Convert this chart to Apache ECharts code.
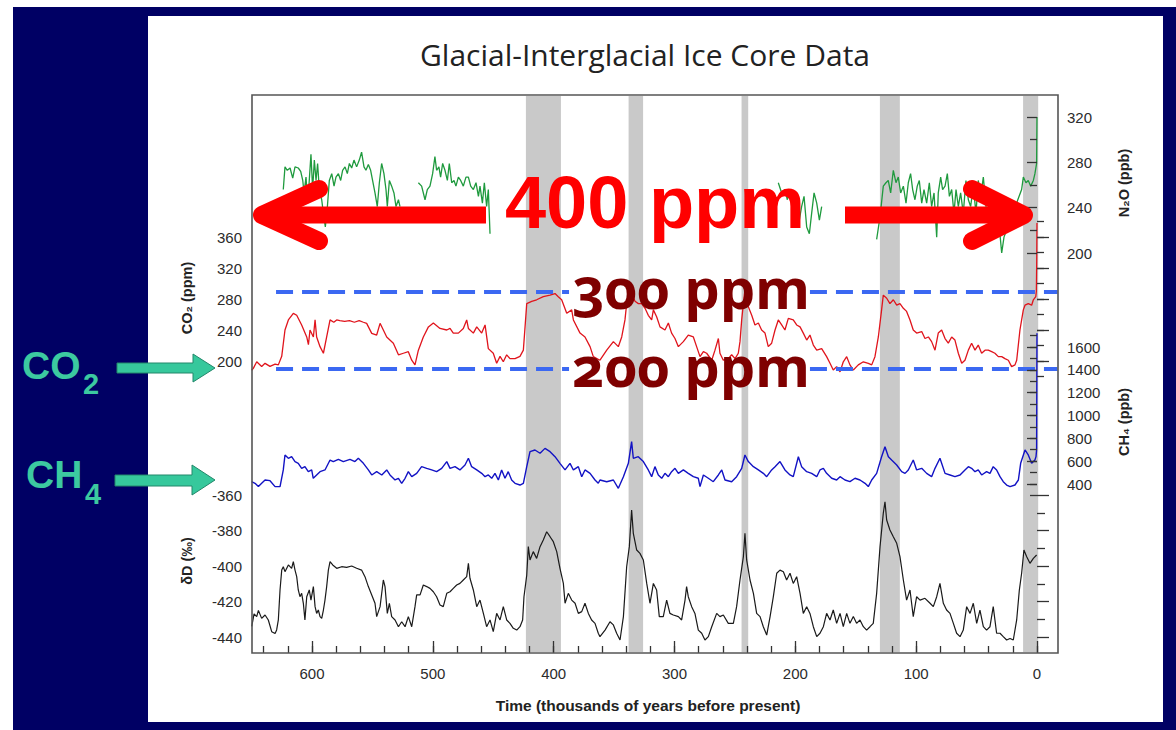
<!DOCTYPE html>
<html>
<head>
<meta charset="utf-8">
<script src="https://cdn.jsdelivr.net/npm/echarts@6/dist/echarts.min.js"></script>
<style>
html,body{margin:0;padding:0;background:#fff;}
#wrap{position:relative;width:1176px;height:730px;overflow:hidden;background:#fff;}
#navy{position:absolute;left:13px;top:7px;width:1163px;height:723px;background:#000064;}
#panel{position:absolute;left:148px;top:16px;width:1015px;height:706px;background:#fff;}
#chart{position:absolute;left:0;top:0;width:1176px;height:730px;}
svg text{font-variant-numeric:oldstyle-nums !important;font-feature-settings:"onum" 1 !important;}
</style>
</head>
<body>
<div id="wrap"><div id="navy"></div><div id="panel"></div><div id="chart"></div></div>
<script>
// ---------------- DATA (time in kyr before present) ----------------
const titleText = 'Glacial-Interglacial Ice Core Data';
const xTickLabels = [600, 500, 400, 300, 200, 100, 0];
const interglacialBands = [[423, 394], [338, 326], [244.5, 239], [130, 113.5], [11.5, -1]];
const co2RefLevels = [290, 190];

const co2Data = [
[650,188],[648.6,190.5],[645.8,199],[641.7,193],[638.9,197],[634.8,193],[630.6,196],[627.9,195],[625.1,206],[622.4,240],[619.6,253],[615.5,261.5],[612.7,259],[608.6,246.5],[604.4,231],[603,221],[601.7,240],[598.9,231],[597.5,253],[596.2,231],[593.4,218.5],[590.6,210],[587.9,231],[585.1,253],[582,250],[579.6,253],[577,252],[573,251],[569,252],[565,250],[561,252],[557.5,250],[554.8,248.6],[550.6,235.7],[546.5,233.5],[543.7,248.6],[541,240],[538.2,231],[532.7,223],[528.5,208],[524.4,210],[520.3,212],[517.5,201],[514.8,195],[512,214],[507.9,231],[503.7,244],[499.6,249],[494.1,242],[488.5,240],[485.8,242],[483.1,236],[478.9,236],[474.8,242],[472,253],[470.6,242],[466.5,236],[463.7,244],[459.6,236],[456.8,246.5],[454.1,216],[450,210],[447.2,197],[444.4,206],[441.7,199],[438.9,208],[436.2,203],[432,203],[427.9,206],[425.1,214],[422.3,274],[418.2,277],[414.1,279],[408.6,283],[403,285],[398.9,287],[396.2,283],[393.4,279],[389.2,261.5],[385.1,266],[383.7,253],[378.2,236],[374.1,231],[369.9,218.5],[367.2,205.6],
[361.7,201],[356.1,214],[350.6,225],[346.5,218.5],[343.7,231],[341,253],[339.6,274],[336.8,281],[335.5,287],[332.7,277],[329.9,274],[327.2,274],[324.4,268],[321.7,259],[318.9,253],[317.5,266],[314.8,257],[312,244],[307.9,240],[305.1,249],[302.4,236],[299.6,229],[296.8,218.5],[292.7,225],[288.6,233.5],[284.4,231],[281.7,218.5],[278.9,205.6],[276.1,212],[273.4,210],[269.2,201],[266.5,214],[263.7,229],[262.4,210],[259.6,201],[255.5,203],[252.7,208],[249.9,203],[247.2,210],[245.8,225],[244.4,253],[243,274],[241.7,292],[238.9,270],[236.1,259],[233.4,246.5],[230.6,249],[227.9,240],[225.1,236],[222.4,218.5],[219.6,223],[216.8,240],[214.1,253],[211.3,246.5],[208.6,240],[205.8,255],[201.7,253],[198.9,246.5],[196.1,244],[193.4,236],[190.6,227],[187.9,233.5],[185.1,220.6],[182.3,214],[178.2,216],[174.1,205.6],[171.3,197],[168.6,188.4],[165.8,192.7],[163,186],[160.3,199],[157.5,205.6],[154.8,195],[152,188.4],[147.9,195],[143.7,199],[139.6,197],[136.8,195],[134.1,205.6],[131.3,231],[128.6,266],[127.2,285],[124.4,281],[121.7,274],[118.9,279],[116.1,272],[113.4,274],[110.6,268],[107.9,264],[105.1,253],[102.4,240],[99.6,236],[95.4,238],[92.7,229],[89.9,231],[87.2,225],[84.4,214],[81.7,236],[78.9,240],[76.1,229],[73.4,223],[70.6,231],[67.9,227],[65.1,210],[62.3,197],[59.6,201],[56.8,214],[54.1,223],[51.3,214],[48.6,220.6],[45.8,210],[43,214],[40.3,214],[37.5,212],[34.8,210],[32,205.6],[29.2,205.6],[26.5,203],[23.7,201],[21,192.7],[18.2,195],[16.8,201],[14.1,240],[11.3,266],[9.9,272],[7.2,274],[4.4,272],[3,279],[1,283],[0.5,290],[0.2,330],[0,378]
];

const ch4Data = [
[650,420],[647.2,406],[644.4,377],[641.7,406],[638.9,435],[634.8,429],[630.6,377],[626.5,377],[623.8,523],[622.4,654],[619.6,625],[616.9,639],[614.1,596],[611.4,581],[608.6,537],[605.9,552],[603.1,508],[600.3,523],[599,450],[596.2,479],[593.4,508],[589.3,523],[585.1,610],[582.4,596],[578.2,616],[574.1,596],[568.6,616],[564.5,596],[561.7,625],[557.5,581],[553.4,523],[550.6,479],[546.5,508],[542.3,479],[538.2,523],[535.5,479],[531.3,435],[528.5,450],[525.8,406],[523,450],[520.3,508],[517.5,464],[513.4,493],[509.3,552],[505.1,537],[501,523],[496.9,508],[492.7,537],[488.5,596],[485.8,537],[481.7,552],[477.6,523],[473.4,566],[470.6,625],[467.9,552],[463.7,523],[459.6,493],[456.8,464],[454.1,479],[451.3,450],[448.6,493],[445.8,435],[443.1,523],[440.3,450],[437.6,508],[434.8,435],[432,406],[427.9,391],[425.1,406],[422.3,552],[419.6,683],[415.5,698],[411.3,669],[407.2,712],[403,683],[398.9,639],[394.8,581],[390.6,523],[386.5,581],[383.7,523],[379.6,552],[376.8,464],[374.1,523],[369.9,493],[365.8,435],[363.1,406],
[361.7,435],[356.1,420],[350.6,435],[346.5,362],[342.3,464],[338.2,581],[335.5,771],[334.1,625],[330,639],[325.8,596],[321.7,523],[318.9,464],[316.2,552],[313.4,479],[310.6,450],[307.9,493],[305.1,464],[302.4,508],[299.6,537],[296.8,493],[292.7,523],[288.6,493],[284.4,464],[280.3,450],[278.9,377],[276.1,479],[272,450],[267.9,420],[263.7,479],[260.9,523],[258.2,435],[252.7,420],[248.6,464],[244.4,537],[241.7,654],[238.9,596],[234.7,552],[230.6,523],[226.5,493],[223.7,464],[219.6,523],[216.8,552],[212.7,596],[208.6,523],[204.4,479],[201.7,464],[197.5,639],[194.8,552],[190.6,508],[186.5,493],[182.3,464],[179.6,523],[176.8,537],[174.1,493],[169.9,450],[165.8,435],[163,464],[158.9,435],[154.8,420],[150.6,450],[146.5,435],[142.3,406],[139.6,377],[136.8,435],[132.7,493],[128.6,639],[125.8,727],[123,639],[120.3,610],[116.1,566],[112,508],[109.2,493],[106.5,523],[102.4,610],[99.6,523],[95.4,537],[91.3,493],[87.2,464],[84.4,537],[80.3,625],[76.1,493],[72,479],[67.9,464],[63.7,479],[59.6,523],[56.8,552],[54.1,537],[51.3,508],[48.6,523],[45.8,479],[41.7,508],[38.9,493],[36.2,552],[33.4,523],[30.6,464],[27.9,420],[25.1,391],[22.3,377],[18.2,391],[15.4,435],[13.5,581],[9.9,698],[7.2,654],[4.4,581],[1.7,610],[0.8,640],[0.3,700],[0,1720]
];

const n2oData = [
[623.8,256],[622.4,276],[620.5,273],[618.2,275],[616,266],[614.1,276],[611.4,275],[609.4,272],[607.7,264],[606.6,253],[605,267],[603.6,244],[602.3,264],[600.9,287],[599.5,256],[598.1,282],[596.7,264],[595.4,279],[594,256],[592,247],[590.6,235],[589,223],[587.3,241],[585.7,264],[583.7,270],[581.8,259],[580.2,267],[578.2,270],[576.3,264],[574.7,273],[572.7,276],[570.8,270],[569.1,279],[567.2,275],[565.3,282],[563.1,276],[560.9,282],[559,289],[557,276],[555.4,273],[553.4,278],[551.5,273],[549.9,264],[547.9,253],[546,241],[544.3,262],[542.4,279],[540.5,270],[538.8,256],[537.7,241],[536,264],[534.1,259],[532.2,253],[530.5,241],[528.5,247],[527.2,241],[520,null],
[512,262],[509.3,259],[506.5,247],[504.6,256],[502.4,259],[500.2,270],[498.3,285],[496.9,273],[495,276],[493.6,267],[491.9,279],[490,273],[488,264],[486.4,279],[484.4,262],[482.5,264],[480.9,259],[478.9,267],[477,264],[474.8,259],[472.6,267],[470.6,267],[468.7,259],[466.5,256],[464.3,262],[462.3,250],[461,259],[459,244],[457.4,262],[455.5,241],[454.1,256],[452.7,217],[300,null],
[214.1,262],[211.3,253],[208.6,256],[206.6,247],[205,256],[203.1,244],[201.1,235],[198.9,250],[196.7,229],[194.8,241],[192.8,250],[190.6,223],[188.4,217],[186.5,235],[184.5,253],[182.3,244],[180.1,229],[178.2,241],[150,null],
[132.7,212],[129.9,232],[127.2,259],[125,262],[123.1,264],[121.1,253],[118.9,273],[116.7,262],[114.8,267],[112.8,253],[110.6,259],[108.4,244],[106.5,262],[104.6,270],[102.9,256],[101,247],[99.1,259],[97.4,264],[95.4,244],[93.5,256],[91.3,244],[89.1,262],[87.2,241],[85.2,253],[83,214],[81.7,253],[79.7,267],[78.1,256],[76.1,259],[74.2,270],[72.5,250],[70.6,256],[68.7,235],[67,256],[65.1,241],[63.2,253],[61,235],[58.8,264],[56.8,247],[54.9,241],[52.7,259],[50.5,235],[48.6,264],[46.6,250],[44.4,267],[42.2,241],[40.3,235],[38.3,247],[36.1,229],[33.4,241],[31.2,223],[29.2,200],[27.3,214],
[12.7,256],[11.3,267],[9.1,262],[7.2,264],[5.2,259],[3,264],[1.7,270],[0.3,279],[0,320]
];

const dDData = [
[649.9,-434],[648,-427],[645.8,-428.5],[644.4,-425],[641.7,-429.5],[638.9,-427.6],[636.2,-430.4],[633.4,-437],[630.6,-438],[629.3,-436],[627.9,-430.4],[626.5,-413.5],[625.1,-402.3],[623.8,-400.4],[622.4,-403.2],[619.6,-399.4],[616.9,-401.3],[615.5,-397.6],[614.1,-402.3],[612.7,-406],[611.4,-413.5],[610,-417.3],[608.6,-415.4],[607.2,-421],[605.9,-430.4],[604.4,-417.3],[602.3,-413.5],[600.9,-419.2],[598.9,-411.6],[597.5,-422.9],[596.2,-426.7],[594.8,-424.8],[593.4,-428.5],[592,-429.5],[590.6,-424.8],[589.3,-419.2],[587.9,-411.6],[586.5,-402.3],[585.1,-397.6],[582.9,-399.4],[579.6,-401.3],[575.5,-400.4],[571.4,-400.8],[567.2,-400],[563.1,-401.3],[559,-402.3],[556.2,-406],[553.4,-411.6],[550.6,-416.3],[547.9,-421],[546.5,-428.5],[543.7,-422.9],[541,-407.9],[539.6,-411.6],[537.7,-426.7],[536,-421],[534.1,-428.5],[531.3,-430.4],[528.5,-434.2],[525.8,-431.4],[523,-434.2],[520.3,-428.5],[517.5,-434.2],[514.8,-422.9],[513.4,-416.3],[510.6,-416.3],[507.9,-410.7],[505.1,-411.6],[502.4,-412.6],[499.6,-414.5],[496.9,-417.3],[494.1,-422],[491.4,-422.9],[488.5,-415.4],[485.8,-414.5],[483.1,-412.6],[480.3,-410.7],[477.6,-409.8],[474.8,-407.9],[472,-406],[470.6,-398.5],[469.3,-406.9],[466.5,-413.5],[463.7,-422.9],[461,-419.2],[458.2,-426.7],[455.5,-434.2],[452.7,-430.4],[450,-437],[447.2,-426.7],[444.4,-430.4],[441.7,-422.9],[438.9,-430.4],[436.2,-432.3],[433.4,-435.1],[430.6,-436.1],[427.9,-434.2],[425.7,-430.4],[424.6,-417.3],[422.3,-405.1],[421,-389.1],[419.6,-396.6],[416.9,-391.9],[414.1,-395.7],[411.3,-389.1],[408.6,-385.4],[405.8,-380.7],[403,-383.5],[400.3,-386.3],[397.5,-391.9],[394.8,-401.3],[392,-409.8],[390.6,-421],[387.9,-415.4],[385.1,-419.2],[382.3,-421],[379.6,-426.7],[376.8,-425.7],[374.1,-421],[371.3,-426.7],[368.6,-430.4],[365.8,-432.3],[363.1,-437.9],
[361.7,-439.8],[357.5,-436.1],[353.4,-431.4],[350.6,-433.2],[347.9,-437.9],[345.1,-441.7],[342.3,-428.5],[339.6,-400.4],[337.4,-389.1],[335.5,-368.5],[334.1,-381.6],[331.3,-391],[328.6,-392.9],[325.8,-396.6],[323,-409.8],[320.3,-421],[317.5,-409.8],[314.8,-413.5],[312.6,-428.5],[309.3,-428.5],[306.5,-419.2],[303.8,-426.7],[301,-427.6],[296.8,-428.5],[294.1,-430.4],[291.3,-419.2],[290,-411.6],[288.6,-417.3],[285.8,-422.9],[283.1,-426.7],[280.3,-436.1],[277.5,-437.9],[274.8,-441.7],[272,-439.8],[269.2,-434.2],[265.1,-426.7],[262.4,-428.5],[259.6,-427.6],[255.5,-432.3],[251.3,-432.3],[248.6,-422.9],[245.8,-407.9],[243,-394.7],[241.7,-381.6],[240.3,-396.6],[237.5,-407.9],[234.7,-415.4],[232,-426.7],[229.2,-428.5],[226.5,-434.2],[223.7,-438.9],[220.9,-428.5],[218.2,-417.3],[215.4,-404.1],[212.7,-402.3],[209.9,-403.2],[207.2,-407.9],[204.4,-404.1],[201.7,-409.8],[198.9,-406],[196.1,-415.4],[193.4,-426.7],[190.6,-422.9],[187.9,-426.7],[185.1,-434.2],[182.3,-439.8],[179.6,-437.9],[176.8,-434.2],[174.1,-426.7],[171.3,-430.4],[168.6,-424.8],[165.8,-432.3],[163,-426.7],[160.3,-434.2],[157.5,-426.7],[154.8,-432.3],[152,-428.5],[149.3,-432.3],[146.5,-430.4],[143.7,-434.2],[141,-436.1],[138.2,-434.2],[135.5,-432.3],[132.7,-415.4],[129.9,-389.1],[127.2,-370.3],[125.8,-363.8],[124.4,-374.1],[121.7,-379.7],[118.9,-383.5],[116.1,-387.2],[113.4,-394.7],[110.6,-407.9],[107.9,-419.2],[105.1,-413.5],[102.4,-428.5],[99.6,-417.3],[96.8,-419.2],[92.7,-418.2],[88.5,-421],[85.8,-422.9],[83,-417.3],[80.3,-409.8],[77.5,-421],[74.8,-424.8],[72,-426.7],[69.2,-432.3],[66.5,-437.9],[63.7,-439.8],[61,-436.1],[58.2,-422.9],[55.4,-426.7],[52.7,-421],[49.9,-432.3],[47.2,-424.8],[44.4,-434.2],[41.7,-436.1],[38.9,-434.2],[36.2,-422.9],[33.4,-437.9],[30.6,-437.9],[27.9,-439.8],[25.1,-441.7],[22.3,-440.8],[19.6,-441.7],[16.8,-430.4],[14.6,-413.5],[12.7,-404.1],[10.8,-391],[8.6,-394.7],[5.8,-398.5],[3,-395.7],[0.3,-393.8]
];

// ---------------- LAYOUT ----------------
const T_MIN = -17.4, T_MAX = 649.7;   // time extent of plot frame (inverse axis)
const PL = 252, PW = 806, PT = 95, PH = 558;
const FONT = '"Liberation Sans", Arial, sans-serif';
const TICK = {color: '#333', width: 1.3};

const chart = echarts.init(document.getElementById('chart'), null, {renderer: 'svg'});

function grid(top, height, left, width) {
  return {left: left === undefined ? PL : left, width: width === undefined ? PW : width,
          top: top, height: height, show: false, containLabel: false, outerBoundsMode: 'none'};
}
function tAxis(gi) {
  return {gridIndex: gi, type: 'value', min: T_MIN, max: T_MAX, inverse: true, show: false};
}
function hiddenY(gi) { return {gridIndex: gi, type: 'value', min: 0, max: 1, show: false}; }
function valAxis(gi, pos, min, max, interval, tickLen, showLabel, minor) {
  const a = {
    gridIndex: gi, type: 'value', position: pos, min: min, max: max, interval: interval, z: 10,
    axisLine: {show: false},
    axisTick: {show: true, inside: true, length: tickLen, lineStyle: TICK},
    axisLabel: {show: showLabel, margin: pos === 'right' ? 9 : 10, fontSize: 15, color: '#2b2b2b', fontFamily: FONT,
                formatter: v => String(v)},
    splitLine: {show: false}
  };
  if (minor) a.minorTick = {show: true, splitNumber: minor.split, length: minor.len, lineStyle: TICK};
  return a;
}

const grids = [
  grid(PT, PH),                     // 0 frame / bands
  grid(PT, PH, 312, 725),           // 1 x major ticks (600..0)
  grid(PT, PH, 263.7, 773.3),       // 2 x minor ticks (640..0)
  grid(237, 124),                   // 3 CO2 labels 200..360
  grid(221.5, 155),                 // 4 CO2 minor 180..380
  grid(117, 136),                   // 5 N2O 200..320
  grid(347, 137),                   // 6 CH4 labels 400..1600
  grid(335.6, 159.8),               // 7 CH4 minor 300..1700
  grid(495, 142)                    // 8 dD -440..-360
];

const xAxes = [
  tAxis(0),
  {gridIndex: 1, type: 'value', min: 0, max: 600, interval: 100, inverse: true, position: 'bottom', z: 10,
   axisLine: {show: false}, axisTick: {inside: true, length: 12, lineStyle: TICK},
   axisLabel: {margin: 13, fontSize: 15, color: '#2b2b2b', fontFamily: FONT,
               formatter: v => xTickLabels.indexOf(v) >= 0 ? String(v) : ''},
   splitLine: {show: false}},
  {gridIndex: 2, type: 'value', min: 0, max: 640, interval: 20, inverse: true, position: 'bottom', z: 10,
   axisLine: {show: false}, axisTick: {inside: true, length: 7, lineStyle: TICK},
   axisLabel: {show: false}, splitLine: {show: false}},
  tAxis(3), tAxis(4), tAxis(5), tAxis(6), tAxis(7), tAxis(8)
];

const yAxes = [
  hiddenY(0), hiddenY(1), hiddenY(2),
  valAxis(3, 'left', 200, 360, 40, 12, true),
  valAxis(4, 'left', 180, 380, 20, 7, false),
  valAxis(5, 'right', 200, 320, 40, 10, true, {split: 2, len: 7}),
  valAxis(6, 'right', 400, 1600, 200, 10, true),
  valAxis(7, 'right', 300, 1700, 100, 7, false),
  valAxis(8, 'left', -440, -360, 20, 12, true, {split: 2, len: 8})
];

const refLineStyle = {color: '#3b68f2', width: 4, type: [17, 9], cap: 'butt'};
const refSegments = [];
co2RefLevels.forEach(v => {
  refSegments.push([{coord: [629.8, v]}, {coord: [387.3, v]}]);
  refSegments.push([{coord: [187.9, v]}, {coord: [-17, v]}]);
});

const lineBase = {type: 'line', symbol: 'none', showSymbol: false, clip: false, silent: true,
                  animation: false, z: 3, connectNulls: false};

const series = [
  {type: 'custom', xAxisIndex: 0, yAxisIndex: 0, z: 1, silent: true, clip: false,
   data: interglacialBands, encode: {x: [0, 1]},
   renderItem: function (params, api) {
     const a = api.coord([api.value(0), 0]);
     const b = api.coord([api.value(1), 0]);
     const cs = params.coordSys;
     return {type: 'rect', shape: {x: Math.min(a[0], b[0]), y: cs.y + 1, width: Math.abs(b[0] - a[0]), height: cs.height - 2},
             style: {fill: '#c9c9c9'}};
   }},
  Object.assign({}, lineBase, {name: 'N2O', xAxisIndex: 5, yAxisIndex: 5, data: n2oData,
   lineStyle: {color: '#1f9a3e', width: 1.3}, itemStyle: {color: '#1f9a3e'}}),
  Object.assign({}, lineBase, {name: 'CO2', xAxisIndex: 4, yAxisIndex: 4, data: co2Data,
   lineStyle: {color: '#e0141c', width: 1.3}, itemStyle: {color: '#e0141c'},
   markLine: {silent: true, symbol: ['none', 'none'], label: {show: false}, animation: false,
              lineStyle: refLineStyle, emphasis: {disabled: true}, data: refSegments}}),
  Object.assign({}, lineBase, {name: 'CH4', xAxisIndex: 7, yAxisIndex: 7, data: ch4Data,
   lineStyle: {color: '#1212c4', width: 1.4}, itemStyle: {color: '#1212c4'}}),
  Object.assign({}, lineBase, {name: 'dD', xAxisIndex: 8, yAxisIndex: 8, data: dDData,
   lineStyle: {color: '#1a1a1a', width: 1.2}, itemStyle: {color: '#1a1a1a'}})
];

const RED = '#ff0000', MAROON = '#7f0000', TEAL = '#3cc9a0';
const graphics = [
  // frame
  {type: 'rect', z: 50, silent: true, shape: {x: PL, y: PT, width: PW, height: PH},
   style: {fill: null, stroke: '#555', lineWidth: 1.6}},
  // title
  {type: 'text', z: 60, x: 645, y: 54, style: {text: titleText, font: '30px "Open Sans", "Noto Sans", sans-serif',
   fill: '#222', align: 'center', verticalAlign: 'middle'}},
  // axis names
  {type: 'text', z: 60, x: 187, y: 298, rotation: Math.PI / 2, style: {text: 'CO₂ (ppm)', font: 'bold 14.5px ' + FONT, fill: '#222', align: 'center', verticalAlign: 'middle'}},
  {type: 'text', z: 60, x: 187, y: 561, rotation: Math.PI / 2, style: {text: 'δD (‰)', font: 'bold 14.5px ' + FONT, fill: '#222', align: 'center', verticalAlign: 'middle'}},
  {type: 'text', z: 60, x: 1124, y: 183, rotation: Math.PI / 2, style: {text: 'N₂O (ppb)', font: 'bold 14.5px ' + FONT, fill: '#222', align: 'center', verticalAlign: 'middle'}},
  {type: 'text', z: 60, x: 1124, y: 422, rotation: Math.PI / 2, style: {text: 'CH₄ (ppb)', font: 'bold 14.5px ' + FONT, fill: '#222', align: 'center', verticalAlign: 'middle'}},
  {type: 'text', z: 60, x: 648, y: 705, style: {text: 'Time (thousands of years before present)', font: 'bold 15.5px ' + FONT, fill: '#222', align: 'center', verticalAlign: 'middle'}},
  // red arrows
  {type: 'line', z: 70, silent: true, shape: {x1: 266, y1: 215, x2: 486, y2: 215}, style: {stroke: RED, lineWidth: 17, lineCap: 'butt'}},
  {type: 'polyline', z: 70, silent: true, shape: {points: [[319, 189], [262, 215], [319, 241]]}, style: {stroke: RED, fill: null, lineWidth: 18, lineCap: 'round', lineJoin: 'round'}},
  {type: 'line', z: 70, silent: true, shape: {x1: 845, y1: 215, x2: 1020, y2: 215}, style: {stroke: RED, lineWidth: 17, lineCap: 'butt'}},
  {type: 'polyline', z: 70, silent: true, shape: {points: [[972, 189], [1024, 215], [972, 241]]}, style: {stroke: RED, fill: null, lineWidth: 18, lineCap: 'round', lineJoin: 'round'}},
  {type: 'text', z: 70, x: 655, y: 202, style: {text: '400 ppm', font: 'bold 74px ' + FONT, fill: RED, align: 'center', verticalAlign: 'middle'}},
  {type: 'text', z: 70, x: 572, y: 287, style: {text: '300 ppm', font: 'bold 56px "Noto Sans", sans-serif', fill: MAROON, align: 'left', verticalAlign: 'middle'}},
  {type: 'text', z: 70, x: 572, y: 365, style: {text: '200 ppm', font: 'bold 56px "Noto Sans", sans-serif', fill: MAROON, align: 'left', verticalAlign: 'middle'}},
  // green arrows + labels on navy
  {type: 'polygon', z: 70, silent: true, shape: {points: [[117, 363], [193, 363], [193, 354], [215, 368], [193, 382], [193, 373], [117, 373]]}, style: {fill: '#36c89c', stroke: '#23876a', lineWidth: 1}},
  {type: 'polygon', z: 70, silent: true, shape: {points: [[115, 475], [192, 475], [192, 465], [215, 480], [192, 495], [192, 486], [115, 486]]}, style: {fill: '#36c89c', stroke: '#23876a', lineWidth: 1}},
  {type: 'text', z: 70, x: 22, y: 365, style: {text: 'CO', font: 'bold 39px ' + FONT, fill: TEAL, align: 'left', verticalAlign: 'middle'}},
  {type: 'text', z: 70, x: 83, y: 384, style: {text: '2', font: 'bold 29px ' + FONT, fill: TEAL, align: 'left', verticalAlign: 'middle'}},
  {type: 'text', z: 70, x: 26, y: 474, style: {text: 'CH', font: 'bold 39px ' + FONT, fill: TEAL, align: 'left', verticalAlign: 'middle'}},
  {type: 'text', z: 70, x: 85, y: 494, style: {text: '4', font: 'bold 29px ' + FONT, fill: TEAL, align: 'left', verticalAlign: 'middle'}}
];

chart.setOption({
  animation: false,
  backgroundColor: 'transparent',
  textStyle: {fontFamily: FONT},
  grid: grids,
  xAxis: xAxes,
  yAxis: yAxes,
  series: series,
  graphic: {elements: graphics}
});
</script>
</body>
</html>
